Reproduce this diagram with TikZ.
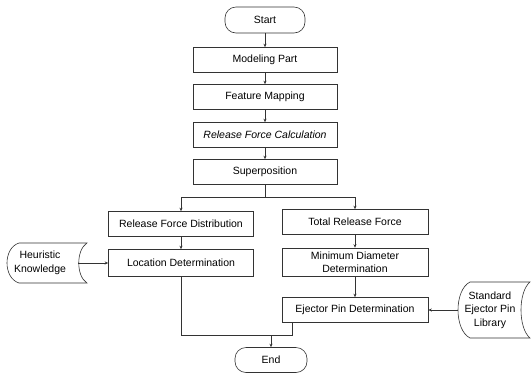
\documentclass[tikz,border=0pt]{standalone}
\usepackage{fontspec}
\setmainfont{Liberation Sans}
\usetikzlibrary{arrows.meta,calc}
\tikzset{
  ln/.style={draw=black!80, line width=0.6pt},
  arr/.style={ln, -{Stealth[length=3.5pt,width=3pt]}},
  box/.style={draw=black!80, line width=0.6pt, rectangle, minimum width=144pt, minimum height=25pt, inner sep=1pt, font=\fontsize{10.5}{13}\selectfont, align=center},
  term/.style={draw=black!80, line width=0.6pt, rectangle, rounded corners=11pt, minimum height=26pt, inner sep=1pt, font=\fontsize{10.5}{13}\selectfont},
  store/.style={inner sep=0pt, font=\fontsize{10.5}{13.5}\selectfont, align=center}
}
\begin{document}
\begin{tikzpicture}[x=1pt,y=-1pt]
\useasboundingbox (0,0) rectangle (531,376);
% main column
\node[term, minimum width=80pt] (start) at (265,20) {Start};
\node[box] (mp) at (265,60) {Modeling Part};
\node[box] (fm) at (265,97) {Feature Mapping};
\node[box] (rfc) at (265,135) {\itshape Release Force Calculation};
\node[box] (sp) at (265,172) {Superposition};
% left branch
\node[box, minimum width=145pt] (rfd) at (181,224) {Release Force Distribution};
\node[box, minimum width=145pt, minimum height=27pt] (ld) at (181,263) {Location Determination};
% right branch
\node[box, minimum width=146pt] (trf) at (355,222) {Total Release Force};
\node[box, minimum width=146pt, minimum height=28pt] (mdd) at (355,262) {Minimum Diameter\\Determination};
\node[box, minimum width=146pt] (epd) at (355,310) {Ejector Pin Determination};
% end
\node[term, minimum width=72pt, minimum height=25pt] (end) at (271,360) {End};
% stored data: Heuristic Knowledge
\node[store, minimum width=76pt, minimum height=40pt] (hk) at (40,263) {Heuristic\\Knowledge};
\draw[ln] (19,243) -- (87,243) .. controls (76,250) and (76,276) .. (87,283) -- (19,283) .. controls (3,278) and (3,248) .. (19,243) -- cycle;
% stored data: Standard Ejector Pin Library
\node[store, minimum width=64pt, minimum height=56pt] (sepl) at (490,310) {Standard\\Ejector Pin\\Library};
\draw[ln] (470,282) -- (530,282) .. controls (518,292) and (518,328) .. (530,338) -- (470,338) .. controls (454,330) and (454,290) .. (470,282) -- cycle;
% connectors
\draw[arr] (start) -- (mp);
\draw[arr] (mp) -- (fm);
\draw[arr] (fm) -- (rfc);
\draw[arr] (rfc) -- (sp);
\coordinate (br) at ($(sp.south)+(0,12)$);
\draw[arr] (sp.south) -- (br) -| (rfd.north);
\draw[arr] (br) -| (trf.north);
\draw[arr] (rfd) -- (ld);
\draw[arr] (trf) -- (mdd);
\draw[arr] (mdd) -- (epd);
\draw[arr] (hk.east) -- (ld.west);
\draw[arr] (sepl.west) -- (epd.east);
\coordinate (mj) at (292,335);
\draw[ln] (ld.south) |- (mj) -- (mj |- epd.south);
\coordinate (me) at (end.north |- mj);
\draw[arr] (me) -- (end.north);
\end{tikzpicture}
\end{document}
